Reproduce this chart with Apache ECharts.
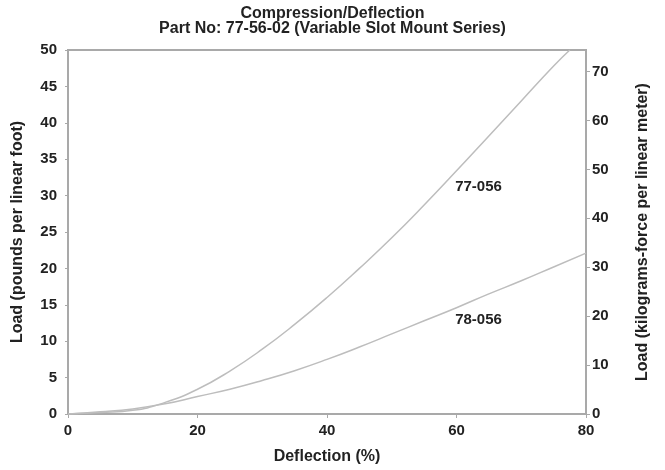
<!DOCTYPE html>
<html><head><meta charset="utf-8">
<script src="https://cdn.jsdelivr.net/npm/echarts@6/dist/echarts.min.js"></script>
<style>html,body{margin:0;padding:0;background:#fff}#c{width:665px;height:470px}</style>
</head><body><div id="c"></div>
<script>
const deflection77 = [0, 5, 10, 15, 20, 25, 30, 35, 40, 45, 50, 55, 60, 65, 70, 75, 77.5];
const load77 = [0, 0.2, 0.5, 1.6, 3.4, 5.9, 8.9, 12.3, 16.0, 20.0, 24.2, 28.7, 33.4, 38.2, 43.0, 47.8, 50];
const deflection78 = [0, 5, 10, 15, 20, 25, 30, 35, 40, 45, 50, 55, 60, 65, 70, 75, 80];
const load78 = [0, 0.3, 0.7, 1.4, 2.4, 3.4, 4.6, 5.95, 7.5, 9.2, 11.0, 12.8, 14.6, 16.5, 18.3, 20.2, 22.1];
const xTicks = [0, 20, 40, 60, 80];
const leftMax = 50;
const kgfPerLb = 1.488;
const labels = [{name: '77-056', x: 63.4, y: 31.2}, {name: '78-056', x: 63.4, y: 12.9}];

const font = 'Liberation Sans, Arial, sans-serif';
const lineCol = '#bdbdbd';
const axisCol = '#a9a9a9';
const chart = echarts.init(document.getElementById('c'));
const pair = (xs, ys) => xs.map((x, i) => [x, ys[i]]);
const tickLabel = {color: '#222', fontWeight: 'bold', fontSize: 15, fontFamily: font};
const nameStyle = {color: '#222', fontWeight: 'bold', fontSize: 16, fontFamily: font};
const mp = (lab) => ({
  symbol: 'circle', symbolSize: 1, itemStyle: {color: 'rgba(0,0,0,0)'},
  label: {show: true, position: 'inside', formatter: '{b}', color: '#222', fontWeight: 'bold', fontSize: 15, fontFamily: font},
  data: [{name: lab.name, coord: [lab.x, lab.y]}]
});
chart.setOption({
  animation: false,
  title: {
    text: 'Compression/Deflection\nPart No: 77-56-02 (Variable Slot Mount Series)',
    left: 'center', top: 1,
    textStyle: {fontSize: 16, fontWeight: 'bold', color: '#222', fontFamily: font, lineHeight: 15}
  },
  grid: {left: 68, right: 79, top: 50, bottom: 56, show: true, borderColor: axisCol, borderWidth: 2, containLabel: false},
  xAxis: {
    type: 'value', min: 0, max: 80, interval: 20,
    name: 'Deflection (%)', nameLocation: 'middle', nameGap: 35,
    nameTextStyle: nameStyle,
    axisLine: {show: true, lineStyle: {color: axisCol, width: 2}},
    axisTick: {show: true, inside: false, length: 4, lineStyle: {color: axisCol, width: 1}},
    axisLabel: Object.assign({margin: 9}, tickLabel),
    splitLine: {show: false}
  },
  yAxis: [{
    type: 'value', min: 0, max: leftMax, interval: 5, position: 'left',
    name: 'Load (pounds per linear foot)', nameLocation: 'middle', nameGap: 42, nameRotate: 90,
    nameTextStyle: nameStyle,
    axisLine: {show: true, lineStyle: {color: axisCol, width: 2}},
    axisTick: {show: true, length: 3, lineStyle: {color: axisCol, width: 1}},
    axisLabel: Object.assign({margin: 11}, tickLabel),
    splitLine: {show: false}
  }, {
    type: 'value', min: 0, max: leftMax * kgfPerLb, interval: 10, position: 'right',
    name: 'Load (kilograms-force per linear meter)', nameLocation: 'middle', nameGap: 49, nameRotate: 90,
    nameTextStyle: nameStyle,
    axisLine: {show: true, lineStyle: {color: axisCol, width: 2}},
    axisTick: {show: true, length: 4, lineStyle: {color: axisCol, width: 1}},
    axisLabel: Object.assign({margin: 6, showMaxLabel: false}, tickLabel),
    splitLine: {show: false}
  }],
  series: [{
    type: 'line', data: pair(deflection77, load77), smooth: true, symbol: 'none',
    lineStyle: {color: lineCol, width: 1.5},
    markPoint: mp(labels[0])
  }, {
    type: 'line', data: pair(deflection78, load78), smooth: true, symbol: 'none',
    lineStyle: {color: lineCol, width: 1.5},
    markPoint: mp(labels[1])
  }]
});
</script></body></html>
